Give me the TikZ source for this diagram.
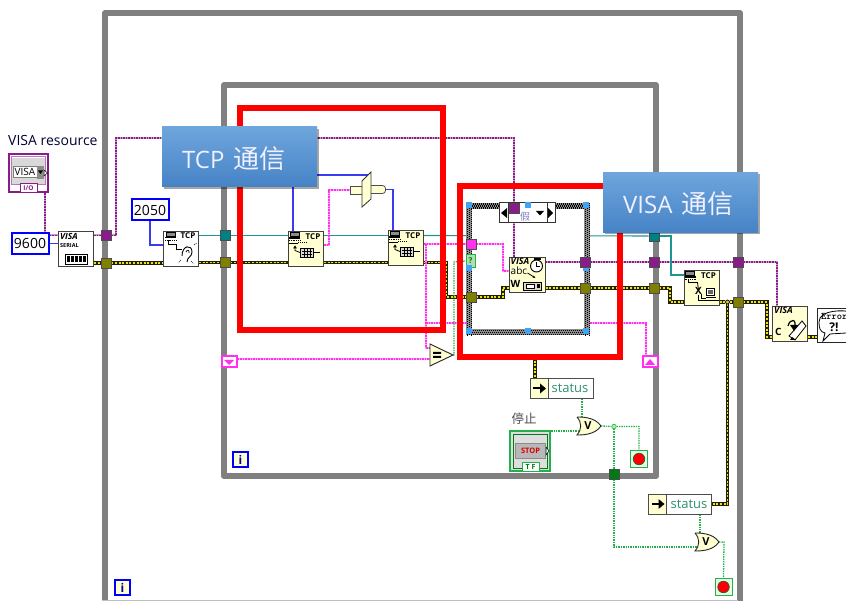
\documentclass[tikz,border=0pt]{standalone}
\usepackage{fontspec}
\setmainfont{Open Sans}
\newfontfamily\cjk{Noto Sans CJK SC}
\usetikzlibrary{shadows,arrows.meta}
\pgfdeclarelayer{fr}\pgfdeclarelayer{wa}\pgfdeclarelayer{cs}\pgfdeclarelayer{wb}\pgfdeclarelayer{tp}
\pgfsetlayers{fr,wa,cs,wb,main,tp}
\newcommand\fsz[1]{\fontsize{#1}{#1}\selectfont}
\definecolor{fgray}{HTML}{808080}
\definecolor{pur}{HTML}{8B1A8B}
\definecolor{pink}{HTML}{FF30F0}
\definecolor{olive}{HTML}{808000}
\definecolor{tealw}{HTML}{1F9494}
\definecolor{bluew}{HTML}{3A3AF0}
\definecolor{iconbg}{HTML}{FFFFD2}
\definecolor{grw}{HTML}{22B04A}
\definecolor{dgr}{HTML}{007A12}
\definecolor{stat}{HTML}{2F8F6F}
\definecolor{hnd}{HTML}{3FA4F4}
\definecolor{callT}{HTML}{6EA5DC}
\definecolor{callB}{HTML}{4683C6}
\tikzset{
 x=1pt,y=-1pt,
 frm/.style={draw=fgray,line width=6pt,line join=round},
 redbox/.style={draw=red,line width=5.6pt,fill=none,inner sep=0pt},
 call/.style={inner sep=0pt,text=white!94!blue,minimum width=155pt,minimum height=60pt,
   top color=callT,bottom color=callB,drop shadow={shadow xshift=2pt,shadow yshift=-2pt,opacity=.35,fill=black},font=\fsz{24}},
 icon/.style={draw=black!75,line width=1pt,fill=iconbg,inner sep=0pt,minimum width=35pt,minimum height=35pt},
 tun/.style={draw=black!70,line width=.8pt,fill=#1,minimum size=10pt,inner sep=0pt},
 hand/.style={fill=hnd,minimum size=6.5pt,inner sep=0pt},
 wpur/.style={draw=pur!45,line width=2pt,postaction={draw=pur,line width=1.6pt,dash pattern=on 1.6pt off 1pt}},
 wpink/.style={draw=pink!45,line width=2pt,postaction={draw=pink,line width=1.6pt,dash pattern=on 1.6pt off 1pt}},
 werr/.style={draw=black!75!olive,line width=3.6pt,postaction={draw=yellow!85!olive,line width=1.8pt,dash pattern=on 2pt off 1.6pt}},
 wteal/.style={draw=tealw,line width=1.1pt},
 wblue/.style={draw=bluew,line width=1.2pt},
 wgr/.style={draw=grw,line width=1.3pt,dash pattern=on 1.4pt off 1pt},
 const/.style={draw=blue,line width=2pt,fill=white,inner sep=0pt,font=\fsz{14},minimum width=37pt,minimum height=21pt},
 iter/.style={draw=blue,line width=1.6pt,fill=iconbg,inner sep=0pt,minimum size=15pt,font=\bfseries\fsz{12},text=blue!60!black},
 sreg/.style={draw=pink,line width=2pt,fill=white,inner sep=0pt,minimum width=15pt,minimum height=11pt},
 statusbox/.style={draw=black!70,line width=1pt,fill=white,inner sep=0pt,minimum width=63pt,minimum height=20pt},
 stopt/.style={draw=grw,line width=1pt,fill=iconbg!60!green!25!white,minimum size=17pt,inner sep=0pt},
 termd/.style={draw=black!70,line width=.8pt,fill=red,circle,minimum size=11.5pt,inner sep=0pt},
 small/.style={inner sep=0pt,font=\bfseries\fsz{8}},
 pc/.style={draw=black,fill=black!45,line width=.5pt},
}
\newcommand\pcicon[2]{%
 \draw[pc] (#1,#2) rectangle ++(9,4);
 \fill[black] (#1-1,#2+5) rectangle ++(11,1.2);
 \draw[black,line width=.8pt,dash pattern=on 1pt off .8pt] (#1-1,#2+8) -- ++(11,0);
}
\begin{document}
\begin{tikzpicture}
\useasboundingbox (0,0) rectangle (846,601);
\clip (0,0) rectangle (846,601);

% frames
\begin{pgfonlayer}{fr}
\fill[white] (0,0) rectangle (846,601);
\draw[frm] (105,606) -- (105,13) -- (740,13) -- (740,606);
\draw[frm] (224,476) -- (224,85) -- (656,85) -- (656,476) -- cycle;
\draw[black!25,line width=.8pt] (102,600.3) -- (738,600.3);
\end{pgfonlayer}

% ---- nodes ----
\node[anchor=west,inner sep=0pt,text=black!65!blue!60!black,font=\fsz{14}] (lres) at (8,141) {VISA resource};
\node[draw=pur,line width=2pt,fill=white,minimum width=39pt,minimum height=38pt,inner sep=0pt] (vres) at (28.5,173) {};
\fill[black!15] (12,158) rectangle (45,184);
\draw[pur!60,line width=.8pt] (11.5,156.5) rectangle (45.5,184);
\node[draw=black!50,line width=.6pt,fill=white,minimum width=24pt,minimum height=11pt,inner sep=0pt,font=\fsz{10}] (vtxt) at (25,172) {VISA};
\fill[black!45] (37,166) rectangle (44,179);
\fill[black] (38,170.5) -- (43,170.5) -- (40.5,174) -- cycle;
\draw[black,fill=white,line width=.5pt] (44,170) -- (47.5,173) -- (44,176) -- cycle;
\node[draw=pur,line width=1pt,fill=white,minimum width=17pt,minimum height=9pt,inner sep=0pt,font=\bfseries\fsz{6.5},text=pur] (vio) at (28.5,188.5) {I/O};

\node[const] (c9600) at (30,243.5) {9600};
\node[const] (c2050) at (150,210) {2050};

\node[draw=black!75,line width=1pt,fill=white,minimum width=35pt,minimum height=35pt,inner sep=0pt] (vser) at (76,249.5) {};
\node[anchor=north west,inner sep=0pt,font=\bfseries\itshape\fsz{8.5}] (vser1) at (60,233) {VISA};
\node[anchor=north west,inner sep=0pt,font=\bfseries\fsz{5.5}] (vser2) at (60,243) {SERIAL};
\node[draw=black,line width=.8pt,fill=white,minimum width=22pt,minimum height=10pt,inner sep=0pt] (vser3) at (76,259.5) {};
\foreach \i in {0,...,4} \fill[black] (67+\i*4,256.5) rectangle ++(2.6,6);

\node[tun=pur] (t1) at (106,235.5) {};
\node[tun=olive] (t2) at (106,263) {};

\node[icon,fill=white] (listen) at (181,249) {};
\begin{scope}[shift={(listen.north west)}]
 \pcicon{3}{1}
 \node[small] at (25,5) {TCP};
 \draw[black,line width=.9pt] (5,9) -- (5,13) -- (13,13) -- (13,18) -- (19,18);
 \draw[black,line width=.9pt] (19,25) .. controls (19,14) and (29,13) .. (29,21) .. controls (29,26) and (24,26) .. (24,31);
 \draw[black,line width=.7pt] (23,21) .. controls (24,18) and (27,19) .. (26,22);
 \draw[black,line width=.6pt,dash pattern=on 1pt off 1pt] (18,29) -- (15,32) (28,30) -- (31,33) (31,14) -- (34,12);
\end{scope}

\node[tun=teal] (t3) at (225,235.5) {};
\node[tun=olive] (t4) at (225,262.5) {};

\node[icon] (tread) at (306,249.5) {};
\node[icon] (twrite) at (406,248.5) {};
\foreach \n in {tread,twrite}{
\begin{scope}[shift={(\n.north west)}]
 \pcicon{2}{1}
 \node[small] at (25,5) {TCP};
 \draw[black,line width=.7pt] (1,12) -- (10,12);
 \draw[black,line width=.7pt,dash pattern=on 1pt off 1pt] (10,11) -- (20,11);
 \draw[black,line width=.8pt] (7,15) -- (7,19) -- (12,21);
 \fill[black] (5,17) -- (9,17) -- (7,14) -- cycle;
 \draw[black,fill=black!15,line width=.8pt] (12,17) rectangle (25,26);
 \draw[black,line width=.4pt] (14,20) -- (24,20) (14,23) -- (24,23) (16,17) -- (16,26) (19,17) -- (19,26) (22,17) -- (22,26);
 \draw[black,line width=.8pt] (25,21) -- (32,21);
\end{scope}}

% build / select shape
\node[draw=black!70,line width=.8pt,fill=iconbg,minimum width=14pt,minimum height=8pt,inner sep=0pt] (bleft) at (357,190) {};
\node[draw=black!70,line width=.8pt,fill=iconbg,rounded corners=3pt,minimum width=19pt,minimum height=8pt,inner sep=0pt] (bright) at (376,189.5) {};
\path[draw=black!80,line width=.8pt,fill=iconbg] (362,181) -- (371,172) -- (371,199) -- (362,207) -- cycle;
\coordinate (bin) at (369,175);

% case
\begin{pgfonlayer}{cs}
\fill[white] (469,206) rectangle (587,332);
\draw[black!45,line width=6pt] (469.4,206) rectangle (587.4,332.4);
\foreach \o/\ph in {1/0,3/1,5/0}{
 \draw[black,line width=1.6pt,dash pattern=on 1pt off 1pt,dash phase=\ph pt] (466.4+\o,203+\o) -- (590.4-\o,203+\o);
 \draw[black,line width=1.6pt,dash pattern=on 1pt off 1pt,dash phase=\ph pt] (466.4+\o,335.4-\o) -- (590.4-\o,335.4-\o);
 \draw[black,line width=1.6pt,dash pattern=on 1pt off 1pt,dash phase=\ph pt] (466.4+\o,203) -- (466.4+\o,335.4);
 \draw[black,line width=1.6pt,dash pattern=on 1pt off 1pt,dash phase=\ph pt] (590.4-\o,203) -- (590.4-\o,335.4);}
\end{pgfonlayer}
\node[draw=black!80,line width=1pt,fill=white,minimum width=56pt,minimum height=20pt,inner sep=0pt] (sel) at (527,213) {};
\node[inner sep=0pt,text=blue!60!black!50,font=\cjk\fsz{10}] (selt) at (525,217) {假};
\draw[black!80,line width=.8pt] (508,203) -- (508,223) (547,203) -- (547,223);
\fill[black] (501,213) -- (507,208) -- (507,218) -- cycle (553,213) -- (548,208) -- (548,218) -- cycle;
\fill[black] (536,211) -- (544,211) -- (540,215.5) -- cycle;

\node[draw=grw,line width=.8pt,fill=green!55!black!30!white,text=green!45!black,minimum width=9pt,minimum height=13pt,inner sep=0pt,font=\bfseries\fsz{8}] (selq) at (470.5,261) {?};

\foreach \x/\y/\n in {469/205/h1,528/205/h2,586/205/h3,469/268/h4,586/268/h5,469/331/h6,528/331/h7,586/331/h8}
 \node[hand] (\n) at (\x,\y) {};

\node[tun=pur] (tsel) at (514,208) {};
\node[tun=pink] (tp1) at (471,244) {};
\node[tun=olive] (tc1) at (471,297) {};
\node[tun=pur] (tc2) at (585,262) {};
\node[tun=olive] (tc3) at (585,288) {};

\node[icon,minimum width=36pt] (vwrite) at (527,275) {};
\begin{scope}[shift={(vwrite.north west)}]
 \node[anchor=north west,inner sep=0pt,font=\bfseries\itshape\fsz{9}] at (2,1) {VISA};
 \node[anchor=north west,inner sep=0pt,font=\fsz{10}] at (2,10) {abc};
 \draw[black,line width=.8pt,-{Stealth[length=3pt]}] (19,16) -- (27,21);
 \draw[black,fill=white,line width=.9pt] (28,9) circle (6);
 \draw[black,line width=.7pt] (28,5) -- (28,9) -- (31,9);
 \fill[black] (25,1) rectangle (32,3);
 \node[anchor=north west,inner sep=0pt,font=\bfseries\fsz{10}] at (2,23) {W};
 \draw[black,fill=iconbg!50!black!30,line width=.8pt] (15,25) rectangle (33,33);
 \draw[black,fill=white,line width=.5pt] (18,27) rectangle (26,31);
 \fill[black] (28,27) rectangle (31,31);
\end{scope}

\node[tun=teal] (t5) at (654,236) {};
\node[tun=pur] (t6) at (654,262) {};
\node[tun=olive] (t7) at (654,288) {};
\node[tun=pur] (t8) at (738,262) {};
\node[tun=olive] (t9) at (738,302) {};

\node[icon] (tclose) at (701.5,288.5) {};
\begin{scope}[shift={(tclose.north west)}]
 \pcicon{2}{1}
 \node[small] at (25,5) {TCP};
 \draw[black,line width=.8pt] (5,9) -- (5,12) -- (14,12) -- (15,19);
 \node[inner sep=0pt,font=\bfseries\fsz{10}] at (15,20) {X};
 \draw[black,fill=white,line width=.8pt] (23,18) rectangle (31,25);
 \fill[black!60] (24.5,19.5) rectangle (29.5,23.5);
 \draw[black,line width=.8pt] (22,27) -- (32,27);
 \draw[black,line width=.8pt,fill=none] (15,25) -- (15,30) -- (35,30);
 \draw[black,line width=.8pt,fill=none] (18,24) -- (18,28) -- (22,28);
\end{scope}

\node[circle,fill=yellow!60!olive,draw=black,line width=.7pt,minimum size=4pt,inner sep=0pt] (jerr) at (727.5,302) {};

\node[icon] (vclose) at (790,324) {};
\begin{scope}[shift={(vclose.north west)}]
 \node[anchor=north west,inner sep=0pt,font=\bfseries\itshape\fsz{9}] at (2,1) {VISA};
 \node[anchor=north west,inner sep=0pt,font=\bfseries\fsz{10}] at (3,22) {C};
 \draw[black,fill=white,line width=.8pt] (17,30) -- (30,15) -- (34,20) -- (23,34) -- cycle;
 \draw[black,line width=1.2pt] (16,20) .. controls (18,12) and (26,12) .. (22,24);
 \fill[black] (18,19) -- (26,19) -- (22,25) -- cycle;
 \fill[black] (20,31) -- (24,34) -- (18,34) -- cycle;
\end{scope}

\node[draw=black!85,line width=1pt,fill=white,minimum width=35pt,minimum height=34pt,inner sep=0pt] (err) at (835,326) {};
\draw[black,line width=.8pt] (819,322) .. controls (819,309) and (846,310) .. (850,312) (846,333) -- (830,334) -- (823,341) -- (825,333) .. controls (820,332) and (819,328) .. (819,322);
\node[anchor=north west,inner sep=0pt,font=\ttfamily\bfseries\fsz{10}] (err1) at (821,313) {Error};
\node[inner sep=0pt,font=\bfseries\fsz{12}] (err2) at (834,327) {?!};

\node[sreg] (srl) at (229,362) {};
\fill[pink] (224,360) -- (234,360) -- (229,365) -- cycle;
\node[sreg] (srr) at (650,362) {};
\fill[pink] (645,365) -- (655,365) -- (650,359) -- cycle;

\path[draw=black!85,line width=.9pt,fill=iconbg] (430,344) -- (453,355) -- (430,366) -- cycle;
\coordinate (eqout) at (453,355);
\coordinate (eqa) at (430,348);
\coordinate (eqb) at (430,359);
\fill[black] (433,352) rectangle (441,354) (433,356) rectangle (441,358);

\node[iter] (i1) at (240.5,459.5) {i};
\node[iter] (i2) at (122.5,587.5) {i};

\node[statusbox] (st1) at (561.5,388.5) {};
\node[draw=black!70,line width=.8pt,fill=iconbg,minimum width=18pt,minimum height=20pt,inner sep=0pt] (st1a) at (539,388.5) {};
\node[inner sep=0pt,text=stat,font=\fsz{13}] (st1t) at (570,388.5) {status};
\node[statusbox] (st2) at (680,504) {};
\node[draw=black!70,line width=.8pt,fill=iconbg,minimum width=18pt,minimum height=20pt,inner sep=0pt] (st2a) at (657.5,504) {};
\node[inner sep=0pt,text=stat,font=\fsz{13}] (st2t) at (689,504) {status};
\foreach \n in {st1a,st2a}{
 \fill[black] ([xshift=-6pt,yshift=-1pt]\n.center) rectangle ([xshift=2pt,yshift=1pt]\n.center);
 \fill[black] ([xshift=1pt,yshift=-5pt]\n.center) -- ([xshift=7pt]\n.center) -- ([xshift=1pt,yshift=5pt]\n.center) -- cycle;}

\node[inner sep=0pt,text=black!70,font=\cjk\fsz{12.5}] (lstop) at (524,419) {停止};
\node[draw=grw,line width=2.4pt,fill=black!13,minimum width=40pt,minimum height=40pt,inner sep=0pt] (stop) at (530,451) {};
\draw[dgr,line width=.7pt] (513,434) rectangle (547,468);
\node[draw=black!45,line width=1pt,fill=black!28,text=red!85!black,minimum width=30pt,minimum height=15pt,inner sep=0pt,font=\bfseries\fsz{7.5}] (stopb) at (530.5,450.5) {STOP};
\draw[black,fill=white,line width=.5pt] (546,447) -- (549,451) -- (546,455) -- cycle;
\node[draw=grw,line width=1pt,fill=white,text=dgr,minimum width=17pt,minimum height=9pt,inner sep=0pt,font=\bfseries\fsz{7}] (stoptf) at (530.5,467) {T F};

\foreach \n/\x/\y in {or1/577/417,or2/695/533}{
 \begin{scope}[shift={(\x,\y)}]
 \draw[black!85,line width=.9pt,fill=iconbg] (0,0) .. controls (5,0) and (18,0) .. (24,9) .. controls (18,18) and (5,18) .. (0,18) .. controls (5,12) and (5,6) .. (0,0);
 \node[inner sep=0pt,font=\bfseries\fsz{11}] at (11,9) {V};
 \coordinate (\n i) at (2,14);
 \coordinate (\n t) at (5,1);
 \coordinate (\n o) at (24,9);
 \end{scope}}

\node[circle,draw=grw,fill=green!40!white,line width=.6pt,minimum size=4.5pt,inner sep=0pt] (jst) at (614,426.5) {};
\node[draw=black!70,line width=.7pt,fill=dgr,minimum size=10pt,inner sep=0pt] (tst) at (614,474) {};

\node[stopt] (s1) at (639,459) {};
\node[termd] at (s1.center) {};
\node[stopt] (s2) at (723.5,587) {};
\node[termd] at (s2.center) {};

% ---- wires under the case ----
\begin{pgfonlayer}{wa}
\draw[wteal] (listen.east |- t3) -- (t3) -- (tread.west |- t3);
\draw[wteal] (tread.east |- t3) -- (twrite.west |- t3);
\draw[wteal] (twrite.east |- t3) -- (t5);
\draw[wpur] (t1) -- ++(10,0) |- (514,138) -- (tsel);
\end{pgfonlayer}

% ---- wires above the case ----
\begin{pgfonlayer}{wb}
\draw[wpur] (vio.south -| 45,0) -- (45,235.5) -- (vser.west |- t1);
\draw[wpur] (vser.east |- t1) -- (t1);
\draw[wblue] (c9600.east) -- (vser.west |- c9600);
\draw[wblue] (c2050.south) |- ([yshift=4pt]listen.west);
\draw[werr] (vser.east |- t2) -- (t2) -- (listen.west |- t2);
\draw[werr] (listen.east |- t4) -- (t4) -- (tread.west |- t4);
\draw[werr] (tread.east |- t4) -- (twrite.west |- t4);
\draw[werr] (twrite.east |- t4) -- (446,262.5) |- (tc1);
\draw[werr] (tc1) -- (503,297) |- (vwrite.west |- tc3);
\draw[werr] (vwrite.east |- tc3) -- (tc3) -- (t7) -- (670,288) |- (tclose.west |- jerr);
\draw[werr] (tclose.east |- jerr) -- (jerr) -- (t9) -- (767,302) |- (vclose.west |- 0,337);
\draw[werr] (vclose.east |- 0,337) -- (err.west |- 0,337);
\draw[werr] (jerr) |- (st2.east);
\draw[werr] (535,357) -- (st1.north -| 535,0);
\draw[wblue] ([xshift=-13pt]tread.north) |- (bin);
\draw[wblue] (bright.east) -| ([xshift=-13pt]twrite.north);
\draw[wpink] (tread.east |- 0,245) -- (329,245) |- (bleft.west);
\draw[wpink] (twrite.east |- tp1) -- (tp1) -- (503,244) |- (vwrite.west |- 0,271);
\draw[wpink] (426,244) -- (426,348) -- (eqa);
\draw[wpink] (426,323) -- (467,323);
\draw[wpink] (590,323) -| ([xshift=-4pt]srr.north);
\draw[wpink] (srl.east |- eqb) -- (eqb);
\draw[wpur] (tsel) -- (vwrite.north -| tsel);
\draw[wpur] (vwrite.east |- t6) -- (tc2) -- (t6) -- (t8) -- (777,262) -- (vclose.north -| 777,0);
\draw[wteal] (t5) -- (671,236) |- (tclose.west |- 0,275);
\draw[wgr] (eqout) -- (454,355) -- (454,262) -- (selq.west);
\draw[wgr] (stop.east |- or1i) -- (or1i);
\draw[wgr] (st1.south -| 582,0) -- (or1t -| 582,0);
\draw[wgr] (or1o) -- (jst) -| (s1.north);
\draw[wgr] (jst) -- (tst) |- (or2i);
\draw[wgr] (st2.south -| 700,0) -- (or2t -| 700,0);
\draw[wgr] (or2o) -- (724,542) -- (s2.north);
\end{pgfonlayer}

% ---- red boxes and callouts ----
\begin{pgfonlayer}{tp}
\node[redbox,minimum width=203.5pt,minimum height=222.5pt] (r1) at (341.5,219) {};
\node[redbox,minimum width=160.5pt,minimum height=171.5pt] (r2) at (540,271.5) {};
\node[call] (c1) at (239.5,157) {};
\node[call] (c2) at (680.5,202.5) {};
\node[anchor=west,inner sep=0pt,text=white!94!blue,font=\fsz{24}] (c1t) at (182,159) {TCP\hspace{9pt}{\cjk\fsz{26}通信}};
\node[anchor=west,inner sep=0pt,text=white!94!blue,font=\fsz{24}] (c2t) at (623,204) {VISA\hspace{9pt}{\cjk\fsz{26}通信}};
\end{pgfonlayer}
\end{tikzpicture}
\end{document}
